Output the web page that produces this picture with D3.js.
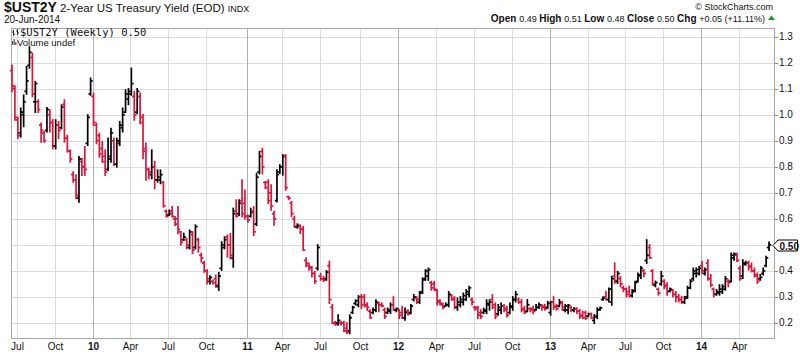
<!DOCTYPE html>
<html lang="en">
<head>
<meta charset="utf-8">
<title>$UST2Y weekly</title>
<script src="https://d3js.org/d3.v7.min.js"></script>
<style>
  body { margin: 0; background: #fff; }
  text { font-family: "Liberation Sans", Arial, sans-serif; fill: #111; }
  text.mono { font-family: "DejaVu Sans Mono", monospace; }
</style>
</head>
<body>
<script>
const width = 800, height = 355;

// weekly bars, weeks ending Friday 26-Jun-2009 .. 20-Jun-2014
const firstWeek = new Date(2009, 5, 26);
const lastWeek = new Date(2014, 5, 20);

const opens = [
  1.17,1.10,0.98,0.93,1.00,1.09,1.19,1.22,1.05,1.05,
  0.96,0.93,0.94,1.00,0.97,0.88,0.96,0.95,1.04,0.91,
  0.86,0.77,0.75,0.68,0.82,0.80,0.89,1.08,1.07,0.96,
  0.92,0.87,0.84,0.79,0.83,0.90,0.81,0.89,0.95,1.01,
  1.06,1.08,1.07,1.01,1.07,0.99,0.87,0.79,0.77,0.80,
  0.75,0.75,0.74,0.63,0.615,0.63,0.60,0.60,0.55,0.52,
  0.52,0.49,0.54,0.49,0.52,0.46,0.43,0.40,0.36,0.36,
  0.37,0.34,0.41,0.49,0.53,0.50,0.45,0.63,0.62,0.67,
  0.66,0.61,0.61,0.63,0.58,0.78,0.86,
  0.74,0.74,0.70,0.62,0.67,0.78,0.80,0.84,0.685,0.66,
  0.60,0.57,0.57,0.56,0.44,0.42,0.41,0.39,0.41,0.38,
  0.37,0.37,0.42,0.26,0.20,0.20,0.20,0.20,0.18,0.17,
  0.24,0.275,0.27,0.30,0.30,0.27,0.245,0.24,0.25,0.275,
  0.27,0.25,0.24,0.245,0.27,0.25,0.25,0.24,0.22,0.245,
  0.24,0.29,0.295,0.28,0.32,0.37,0.38,0.355,0.35,0.325,
  0.285,0.27,0.265,0.27,0.305,0.295,0.26,0.27,0.28,0.29,
  0.31,0.29,0.26,0.26,0.24,0.24,0.245,0.27,0.29,0.27,
  0.235,0.25,0.265,0.255,0.24,0.26,0.29,
  0.29,0.28,0.255,0.245,0.255,0.255,0.25,0.26,0.265,0.265,
  0.26,0.24,0.28,0.265,0.265,0.275,0.25,0.25,0.26,0.25,
  0.255,0.245,0.23,0.24,0.226,0.235,0.21,0.225,0.252,0.29,
  0.30,0.29,0.28,0.38,0.36,0.37,0.335,0.33,0.32,0.305,
  0.325,0.36,0.38,0.40,0.44,0.49,0.40,0.345,0.33,0.35,
  0.36,0.345,0.322,0.325,0.31,0.30,0.29,0.28,0.30,0.335,
  0.37,0.39,0.39,0.42,0.39,0.43,0.37,0.33,0.31,0.315,
  0.32,0.33,0.36,0.36,0.45,0.46,0.41,0.38,0.425,0.43,
  0.42,0.40,0.38,0.37,0.39,0.42,0.49
];

const highs = [
  1.19,1.11,0.99,1.025,1.075,1.185,1.26,1.236,1.127,1.056,
  0.967,0.935,1.027,1.018,0.98,0.98,0.973,1.037,1.056,0.92,
  0.864,0.78,0.768,0.838,0.832,0.877,0.999,1.14,1.082,0.967,
  0.928,0.896,0.864,0.91,0.947,0.91,0.909,0.973,1.025,1.095,
  1.10,1.178,1.088,1.10,1.082,1.0,0.89,0.794,0.864,0.82,
  0.787,0.787,0.742,0.633,0.633,0.646,0.608,0.646,0.55,0.544,
  0.524,0.556,0.55,0.576,0.524,0.467,0.435,0.403,0.38,0.364,
  0.383,0.393,0.511,0.53,0.537,0.543,0.64,0.672,0.672,0.749,
  0.71,0.614,0.64,0.646,0.774,0.858,0.87,
  0.743,0.749,0.73,0.628,0.788,0.807,0.846,0.846,0.686,0.666,
  0.609,0.58,0.576,0.57,0.449,0.429,0.416,0.397,0.50,0.39,
  0.378,0.40,0.436,0.27,0.205,0.23,0.205,0.205,0.20,0.23,
  0.263,0.288,0.304,0.308,0.308,0.276,0.25,0.256,0.288,0.278,
  0.276,0.256,0.256,0.276,0.30,0.256,0.25,0.263,0.256,0.25,
  0.27,0.308,0.30,0.32,0.372,0.404,0.41,0.359,0.359,0.327,
  0.288,0.276,0.276,0.32,0.308,0.30,0.295,0.30,0.314,0.327,
  0.34,0.295,0.263,0.263,0.25,0.256,0.288,0.288,0.308,0.276,
  0.27,0.276,0.27,0.263,0.276,0.30,0.32,
  0.295,0.289,0.263,0.289,0.257,0.263,0.27,0.276,0.27,0.27,
  0.282,0.282,0.30,0.27,0.289,0.282,0.27,0.27,0.263,0.257,
  0.257,0.25,0.244,0.244,0.237,0.237,0.231,0.257,0.26,0.30,
  0.32,0.333,0.378,0.43,0.397,0.378,0.34,0.333,0.34,0.327,
  0.359,0.391,0.416,0.404,0.519,0.50,0.404,0.36,0.333,0.397,
  0.365,0.353,0.333,0.327,0.32,0.308,0.301,0.301,0.34,0.365,
  0.41,0.41,0.416,0.436,0.41,0.442,0.385,0.333,0.327,0.346,
  0.346,0.378,0.365,0.468,0.468,0.468,0.417,0.442,0.436,0.436,
  0.429,0.41,0.391,0.385,0.41,0.455,0.51
];

const lows = [
  1.09,0.98,0.91,0.915,0.955,1.08,1.18,1.07,1.01,1.01,
  0.896,0.896,0.935,0.935,0.87,0.87,0.91,0.947,0.896,0.858,
  0.819,0.742,0.678,0.665,0.768,0.768,0.883,1.076,0.96,0.89,
  0.838,0.819,0.768,0.787,0.819,0.806,0.80,0.883,0.935,1.01,
  1.04,1.076,0.98,1.005,0.967,0.832,0.75,0.755,0.755,0.717,
  0.742,0.736,0.646,0.608,0.614,0.608,0.576,0.544,0.50,0.518,
  0.486,0.486,0.467,0.486,0.473,0.435,0.396,0.351,0.351,0.351,
  0.338,0.326,0.403,0.486,0.454,0.447,0.415,0.608,0.614,0.608,
  0.60,0.588,0.608,0.537,0.575,0.774,0.774,
  0.717,0.66,0.634,0.577,0.666,0.775,0.769,0.711,0.675,0.609,
  0.568,0.565,0.545,0.48,0.417,0.404,0.378,0.353,0.404,0.365,
  0.36,0.365,0.276,0.199,0.192,0.192,0.192,0.167,0.16,0.16,
  0.237,0.27,0.263,0.256,0.263,0.25,0.218,0.237,0.244,0.244,
  0.263,0.218,0.237,0.237,0.25,0.244,0.218,0.218,0.212,0.231,
  0.237,0.286,0.276,0.276,0.314,0.365,0.365,0.327,0.327,0.27,
  0.27,0.256,0.265,0.263,0.288,0.256,0.25,0.263,0.27,0.288,
  0.301,0.27,0.25,0.218,0.218,0.237,0.237,0.25,0.256,0.218,
  0.231,0.237,0.244,0.224,0.237,0.25,0.282,
  0.276,0.244,0.237,0.244,0.244,0.237,0.25,0.257,0.25,0.25,
  0.257,0.231,0.253,0.25,0.263,0.25,0.244,0.237,0.244,0.244,
  0.237,0.218,0.218,0.215,0.225,0.218,0.199,0.218,0.25,0.288,
  0.289,0.282,0.269,0.353,0.353,0.34,0.321,0.301,0.301,0.301,
  0.321,0.359,0.372,0.378,0.43,0.449,0.346,0.34,0.308,0.346,
  0.333,0.308,0.321,0.301,0.282,0.282,0.276,0.276,0.295,0.333,
  0.365,0.378,0.385,0.391,0.385,0.365,0.34,0.301,0.308,0.308,
  0.314,0.327,0.34,0.359,0.442,0.436,0.365,0.372,0.423,0.404,
  0.397,0.378,0.353,0.365,0.385,0.417,0.48
];

const closes = [
  1.11,0.99,0.92,1.01,1.05,1.13,1.24,1.08,1.12,1.02,
  0.94,0.90,1.02,0.97,0.88,0.96,0.94,1.03,0.91,0.86,
  0.83,0.75,0.69,0.83,0.80,0.79,0.99,1.13,0.97,0.90,
  0.85,0.82,0.78,0.84,0.93,0.81,0.90,0.96,1.00,1.08,
  1.09,1.12,1.00,1.09,0.97,0.86,0.79,0.78,0.80,0.75,
  0.76,0.77,0.65,0.61,0.62,0.61,0.58,0.56,0.51,0.53,
  0.50,0.55,0.48,0.57,0.49,0.45,0.40,0.37,0.375,0.355,
  0.345,0.38,0.50,0.52,0.50,0.46,0.62,0.61,0.66,0.62,
  0.61,0.595,0.625,0.55,0.76,0.84,0.80,
  0.72,0.67,0.65,0.60,0.77,0.80,0.84,0.72,0.68,0.62,
  0.57,0.575,0.56,0.48,0.43,0.415,0.39,0.36,0.49,0.37,
  0.365,0.395,0.29,0.20,0.195,0.21,0.20,0.17,0.165,0.22,
  0.26,0.285,0.30,0.27,0.265,0.26,0.22,0.25,0.28,0.27,
  0.265,0.225,0.25,0.27,0.25,0.255,0.23,0.22,0.24,0.235,
  0.265,0.30,0.29,0.315,0.365,0.40,0.405,0.335,0.33,0.28,
  0.275,0.26,0.27,0.31,0.29,0.26,0.28,0.29,0.305,0.32,
  0.335,0.28,0.255,0.23,0.225,0.25,0.275,0.28,0.26,0.225,
  0.26,0.265,0.25,0.23,0.265,0.29,0.31,
  0.28,0.25,0.24,0.27,0.25,0.245,0.26,0.27,0.26,0.255,
  0.275,0.28,0.26,0.255,0.28,0.26,0.265,0.268,0.25,0.255,
  0.245,0.225,0.22,0.218,0.235,0.22,0.225,0.25,0.258,0.295,
  0.29,0.33,0.37,0.36,0.39,0.35,0.33,0.31,0.305,0.32,
  0.355,0.385,0.41,0.39,0.46,0.45,0.35,0.355,0.315,0.38,
  0.34,0.32,0.33,0.31,0.30,0.29,0.28,0.295,0.335,0.36,
  0.40,0.405,0.41,0.40,0.405,0.37,0.345,0.31,0.32,0.33,
  0.34,0.37,0.355,0.46,0.465,0.44,0.37,0.43,0.432,0.415,
  0.40,0.385,0.36,0.375,0.40,0.45,0.50
];

const yTicks = [0.2, 0.3, 0.4, 0.5, 0.6, 0.7, 0.8, 0.9, 1.0, 1.1, 1.2, 1.3];
const quarterMonths = [0, 3, 6, 9];

const weeks = d3.timeFriday.range(firstWeek, d3.timeDay.offset(lastWeek, 1));
const bars = weeks.map((d, i) => ({
  date: d, o: opens[i], h: highs[i], l: lows[i], c: closes[i],
  up: i === 0 ? closes[i] > opens[i] : closes[i] > closes[i - 1]
}));

const plot = { left: 11, right: 774, top: 28, bottom: 338 };
const RED = "#dc143c";

const x = d3.scaleLinear().domain([0, bars.length - 1]).range([12, 769]);
const y = d3.scaleLinear().domain([0.1422, 1.3334]).range([plot.bottom, plot.top]);

const svg = d3.select(document.body).append("svg")
  .attr("width", width).attr("height", height);

// horizontal grid
svg.append("g").selectAll("line").data(yTicks).enter().append("line")
  .attr("x1", plot.left).attr("x2", plot.right)
  .attr("y1", d => Math.round(y(d)) + 0.5).attr("y2", d => Math.round(y(d)) + 0.5)
  .attr("stroke", "#dcdcdc");

// quarter grid lines, at the first bar of Jan/Apr/Jul/Oct
const quarters = bars.map((b, i) => ({ b, i }))
  .filter(({ b, i }) => i > 0 && b.date.getMonth() !== bars[i - 1].date.getMonth()
    && quarterMonths.includes(b.date.getMonth()));

const qx = d => Math.round(x(d.i) + 2) + 0.5;

svg.append("g").selectAll("line").data(quarters).enter().append("line")
  .attr("x1", qx).attr("x2", qx)
  .attr("y1", plot.top).attr("y2", plot.bottom)
  .attr("stroke", d => d.b.date.getMonth() === 0 ? "#b0b0b0" : "#dcdcdc");

svg.append("g").selectAll("text").data(quarters).enter().append("text")
  .attr("x", qx).attr("y", 350)
  .attr("text-anchor", "middle")
  .attr("font-size", 10)
  .attr("font-weight", d => d.b.date.getMonth() === 0 ? "bold" : "normal")
  .text(d => d.b.date.getMonth() === 0 ? d3.timeFormat("%y")(d.b.date) : d3.timeFormat("%b")(d.b.date));

// frame
svg.append("rect")
  .attr("x", plot.left + 0.5).attr("y", plot.top + 0.5)
  .attr("width", plot.right - plot.left).attr("height", plot.bottom - plot.top)
  .attr("fill", "none").attr("stroke", "#a8a8a8");

const last = bars[bars.length - 1];
const prev = bars[bars.length - 2];
const ly = Math.round(y(last.c)) + 0.5;

// right axis (the label under the last-value marker is hidden)
const yAxis = svg.append("g");
yAxis.selectAll("line").data(yTicks).enter().append("line")
  .attr("x1", plot.right + 0.5).attr("x2", plot.right + 4)
  .attr("y1", d => Math.round(y(d)) + 0.5).attr("y2", d => Math.round(y(d)) + 0.5)
  .attr("stroke", "#888");
yAxis.selectAll("text").data(yTicks.filter(d => Math.abs(y(d) - ly) > 9)).enter().append("text")
  .attr("x", 779).attr("y", d => y(d) + 3.5)
  .attr("font-size", 10)
  .text(d => d3.format(".1f")(d));

// OHLC bars
const g = svg.append("g").attr("stroke-width", 1.7);
const bar = g.selectAll("g").data(bars).enter().append("g")
  .attr("stroke", d => d.up ? "#000" : RED);
bar.append("line")
  .attr("x1", (d, i) => x(i)).attr("x2", (d, i) => x(i))
  .attr("y1", d => y(d.h) - 0.8).attr("y2", d => y(d.l) + 0.8);
bar.append("line")
  .attr("x1", (d, i) => x(i) - 2.2).attr("x2", (d, i) => x(i))
  .attr("y1", d => y(d.o)).attr("y2", d => y(d.o));
bar.append("line")
  .attr("x1", (d, i) => x(i)).attr("x2", (d, i) => x(i) + 2.2)
  .attr("y1", d => y(d.c)).attr("y2", d => y(d.c));

// last value marker
svg.append("path")
  .attr("d", `M${plot.right - 1},${ly} L${plot.right + 4},${ly - 5.5} L797.5,${ly - 5.5} L797.5,${ly + 5.5} L${plot.right + 4},${ly + 5.5} Z`)
  .attr("fill", "#fff").attr("stroke", "#000");
svg.append("text")
  .attr("x", 779.5).attr("y", ly + 4)
  .attr("font-size", 10).attr("font-weight", "bold")
  .text(d3.format(".2f")(last.c));

// header
const title = svg.append("text").attr("x", 4).attr("y", 12);
title.append("tspan").attr("font-size", 14).attr("font-weight", "bold").text("$UST2Y");
title.append("tspan").attr("font-size", 11.5).text(" 2-Year US Treasury Yield (EOD) ");
title.append("tspan").attr("font-size", 9).text("INDX");

svg.append("text").attr("x", 4).attr("y", 23).attr("font-size", 10)
  .text(d3.timeFormat("%d-%b-%Y")(last.date));

svg.append("text").attr("x", 773).attr("y", 10).attr("font-size", 9)
  .attr("text-anchor", "end").attr("fill", "#333")
  .text("\u00a9 StockCharts.com");

const chg = last.c - prev.c;
const info = svg.append("text").attr("x", 765).attr("y", 22)
  .attr("text-anchor", "end").attr("font-size", 9);
[["Open", last.o], ["High", last.h], ["Low", last.l], ["Close", last.c]].forEach(([k, v]) => {
  info.append("tspan").attr("font-weight", "bold").attr("font-size", 10).text(k + " ");
  info.append("tspan").text(d3.format(".2f")(v) + " ");
});
info.append("tspan").attr("font-weight", "bold").attr("font-size", 10).text("Chg ");
info.append("tspan").text(d3.format("+.2f")(chg) + " (" + d3.format("+.2%")(chg / prev.c) + ")");
svg.append("path").attr("d", "M768,20 L771.5,15.5 L775,20 Z").attr("fill", "#1a9a1a");

// legend inside the plot
const lg = svg.append("g");
lg.append("path").attr("d", "M13.5,30 V36 M12,32 H13.5 M13.5,34 H15 M17.5,29 V35 M16,31 H17.5 M17.5,33 H19")
  .attr("stroke", "#333").attr("stroke-width", 1);
lg.append("text").attr("class", "mono").attr("x", 20).attr("y", 36)
  .attr("font-size", 10.5).attr("fill", "#222")
  .text("$UST2Y (Weekly) " + d3.format(".2f")(last.c));
lg.append("g").selectAll("rect").data([4, 6, 3]).enter().append("rect")
  .attr("x", (d, i) => 12 + i * 1.6).attr("y", d => 45 - d)
  .attr("width", 1.2).attr("height", d => d).attr("fill", "#555");
lg.append("text").attr("x", 17).attr("y", 46).attr("font-size", 9.5).attr("fill", "#333")
  .text("Volume undef");
</script>
</body>
</html>
